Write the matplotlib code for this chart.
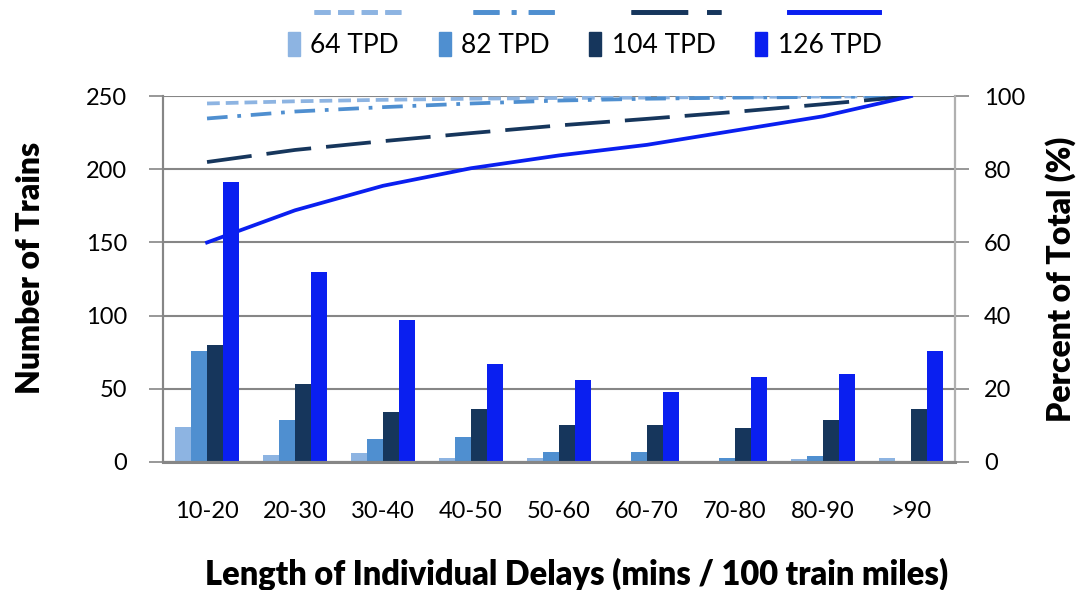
import matplotlib.pyplot as plt
import numpy as np
from matplotlib.lines import Line2D
from matplotlib.patches import Patch

plt.rcParams['font.family'] = ['Lato', 'DejaVu Sans']

# Delay bins on the x axis
categories = ['10-20', '20-30', '30-40', '40-50', '50-60', '60-70', '70-80', '80-90', '>90']
series_names = ['64 TPD', '82 TPD', '104 TPD', '126 TPD']

# Number of trains (bars, left axis)
trains_64 = [24, 5, 6, 3, 3, 0, 0, 2, 3]
trains_82 = [76, 29, 16, 17, 7, 7, 3, 4, 1]
trains_104 = [80, 53, 34, 36, 25, 25, 23, 29, 36]
trains_126 = [191, 130, 97, 67, 56, 48, 58, 60, 76]

# Percent of total (lines, right axis)
pct_64 = [98.0, 98.6, 99.0, 99.3, 99.5, 99.6, 99.8, 99.9, 100]
pct_82 = [93.9, 95.8, 97.0, 98.0, 98.8, 99.3, 99.6, 99.8, 100]
pct_104 = [82.0, 85.3, 87.7, 89.9, 92.0, 93.8, 95.7, 97.8, 100]
pct_126 = [60.0, 68.8, 75.5, 80.3, 83.8, 86.7, 90.6, 94.5, 100]

colors = ['#8db4e2', '#4f8fd0', '#16365c', '#0a1ff0']
dashes = [(3.4, 1.6), (5.5, 2.6, 1, 2.6), (12, 4), None]

fig = plt.figure(figsize=(10.89, 5.90), dpi=100)
ax = fig.add_axes([0.1497, 0.217, 0.7273, 0.620])
ax2 = ax.twinx()

x = np.arange(len(categories))
w = 0.182
bars = [trains_64, trains_82, trains_104, trains_126]
for i, vals in enumerate(bars):
    ax.bar(x + (i - 1.5) * w, vals, width=w, color=colors[i], zorder=2)

pcts = [pct_64, pct_82, pct_104, pct_126]
for i, vals in enumerate(pcts):
    ln, = ax2.plot(x, vals, color=colors[i], lw=2.7, zorder=3)
    if dashes[i] is not None:
        ln.set_dashes(dashes[i])

ax.set_xlim(-0.5, len(categories) - 0.5)
ax.set_ylim(0, 250)
ax.set_yticks(range(0, 251, 50))
ax2.set_ylim(0, 100)
ax2.set_yticks(range(0, 101, 20))

ax.yaxis.grid(True, color='#868686', lw=1.5, zorder=0)
ax.set_axisbelow(True)
ax.set_xticks(x)
ax.set_xticklabels(categories)

grey = '#868686'
for a in (ax, ax2):
    a.spines['top'].set_visible(False)
    for s in ('left', 'right', 'bottom'):
        a.spines[s].set_color(grey)
        a.spines[s].set_linewidth(1.5)
ax.spines['bottom'].set_linewidth(2.2)
ax2.spines['right'].set_color('#b0b0b0')

ax.tick_params(axis='y', length=10, width=1.2, color=grey, labelsize=17, pad=16)
ax2.tick_params(axis='y', length=10, width=1.2, color=grey, labelsize=17, pad=11)
ax.tick_params(axis='x', length=0, labelsize=17, pad=28)

ax.set_ylabel('Number of Trains', fontsize=23, fontweight='heavy')
ax.yaxis.set_label_coords(-0.149, 0.53)
ax2.set_ylabel('Percent of Total (%)', fontsize=23, fontweight='heavy', labelpad=14)
ax.set_xlabel('Length of Individual Delays (mins / 100 train miles)', fontsize=23.5,
              fontweight='heavy')
ax.xaxis.set_label_coords(0.522, -0.262)

line_handles = []
for i in range(4):
    h = Line2D([], [], color=colors[i], lw=3.4)
    if dashes[i] is not None:
        h.set_dashes(dashes[i])
    line_handles.append(h)
leg1 = fig.legend(line_handles, [''] * 4, ncol=4, loc='center', bbox_to_anchor=(0.548, 0.976),
                  frameon=False, handlelength=3.4, columnspacing=2.6, handletextpad=0,
                  fontsize=19)
fig.add_artist(leg1)
patch_handles = [Patch(color=c) for c in colors]
fig.legend(patch_handles, series_names, ncol=4, loc='center', bbox_to_anchor=(0.537, 0.924),
           frameon=False, handlelength=0.45, handleheight=1.0, handletextpad=0.4,
           columnspacing=1.5, fontsize=19)

fig.savefig('out.png', dpi=100)
